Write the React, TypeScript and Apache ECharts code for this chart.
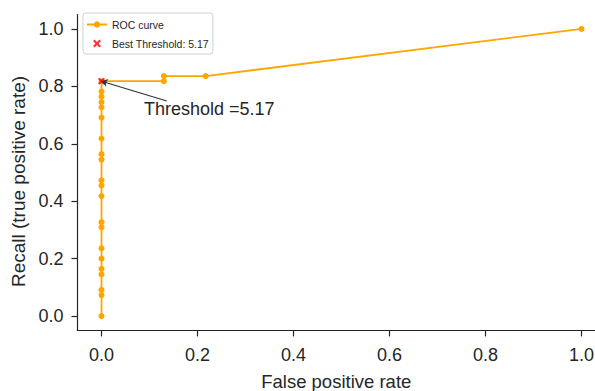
import React, { useEffect, useRef } from "react";
import * as echarts from "echarts";

const fpr = [0, 0, 0, 0, 0, 0, 0, 0, 0, 0, 0, 0, 0, 0, 0, 0, 0, 0, 0, 0, 0, 0.13, 0.13, 0.217, 1.0];
const tpr = [0, 0.073, 0.091, 0.145, 0.164, 0.2, 0.236, 0.309, 0.327, 0.418, 0.455, 0.473, 0.545, 0.564, 0.618, 0.691, 0.727, 0.745, 0.764, 0.782, 0.818, 0.818, 0.836, 0.836, 1.0];
const bestPoint = [0, 0.818];
const bestThreshold = 5.17;
const arrowStart = [0.136, 0.749];
const tickValues = [0, 0.2, 0.4, 0.6, 0.8, 1.0];

const FONT = "Liberation Sans, Arial, Helvetica, sans-serif";
const TXT = "#262626";
const XSYM = "path://M2,0 L5,3 L8,0 L10,2 L7,5 L10,8 L8,10 L5,7 L2,10 L0,8 L3,5 L0,2 Z";

export default function App() {
  const ref = useRef<HTMLDivElement>(null);
  useEffect(() => {
    if (!ref.current) return;
    const chart = echarts.init(ref.current, undefined, { renderer: "svg" });
    const labelStyle = {
      customValues: tickValues,
      formatter: (v: number) => v.toFixed(1),
      fontFamily: FONT,
      fontSize: 18,
      color: TXT,
    };
    const axisCommon = (name: string, max: number) => ({
      type: "value" as const,
      min: -0.05,
      max,
      name,
      nameLocation: "middle" as const,
      axisLine: { show: true, onZero: false, lineStyle: { color: TXT, width: 1.2 } },
      axisTick: { show: true, length: 6, customValues: tickValues, lineStyle: { color: TXT, width: 1.2 } },
      splitLine: { show: false },
    });
    chart.setOption({
      animation: false,
      backgroundColor: "#ffffff",
      grid: { left: 77.5, top: 14.6, right: 0, height: 315.8, containLabel: false, outerBoundsMode: "none" },
      xAxis: {
        ...axisCommon("False positive rate", 1.028),
        nameGap: 42,
        nameTextStyle: { fontFamily: FONT, fontSize: 18.5, color: TXT },
        axisLabel: { ...labelStyle, margin: 16 },
      },
      yAxis: {
        ...axisCommon("Recall (true positive rate)", 1.05),
        nameGap: 50,
        nameTextStyle: { fontFamily: FONT, fontSize: 19, color: TXT, padding: [0, 18, 0, 0] },
        axisLabel: { ...labelStyle, margin: 14 },
      },
      legend: {
        orient: "vertical",
        left: 83,
        top: 13,
        itemWidth: 20,
        itemHeight: 8,
        itemGap: 8,
        padding: [6, 4, 5, 3],
        borderColor: "#d0d0d0",
        borderWidth: 1,
        borderRadius: 3,
        backgroundColor: "rgba(255,255,255,0.8)",
        textStyle: { fontFamily: FONT, fontSize: 10.5, color: TXT },
        data: [
          { name: "ROC curve" },
          { name: `Best Threshold: ${bestThreshold}`, icon: XSYM, itemStyle: { color: "#ff0000" } },
        ],
      },
      graphic: [
        {
          type: "text",
          left: 144,
          top: 100,
          style: { text: `Threshold =${bestThreshold}`, fontFamily: FONT, fontSize: 18, fill: TXT },
        },
      ],
      series: [
        {
          name: "ROC curve",
          type: "line",
          data: fpr.map((x, i) => [x, tpr[i]]),
          symbol: "circle",
          symbolSize: 6,
          showAllSymbol: true,
          lineStyle: { color: "#ffa500", width: 1.8 },
          itemStyle: { color: "#ffa500" },
          z: 2,
        },
        {
          name: `Best Threshold: ${bestThreshold}`,
          type: "scatter",
          data: [bestPoint],
          symbol: XSYM,
          symbolSize: 7,
          itemStyle: { color: "#ff0000" },
          z: 3,
          markLine: {
            silent: true,
            symbol: ["none", "arrow"],
            symbolSize: 6,
            label: { show: false },
            lineStyle: { color: "#333333", width: 1.2, type: "solid" },
            data: [[{ coord: arrowStart }, { coord: bestPoint }]],
          },
        },
      ],
    });
    return () => chart.dispose();
  }, []);
  return <div ref={ref} style={{ position: "fixed", left: 0, top: 0, width: 595, height: 391 }} />;
}
